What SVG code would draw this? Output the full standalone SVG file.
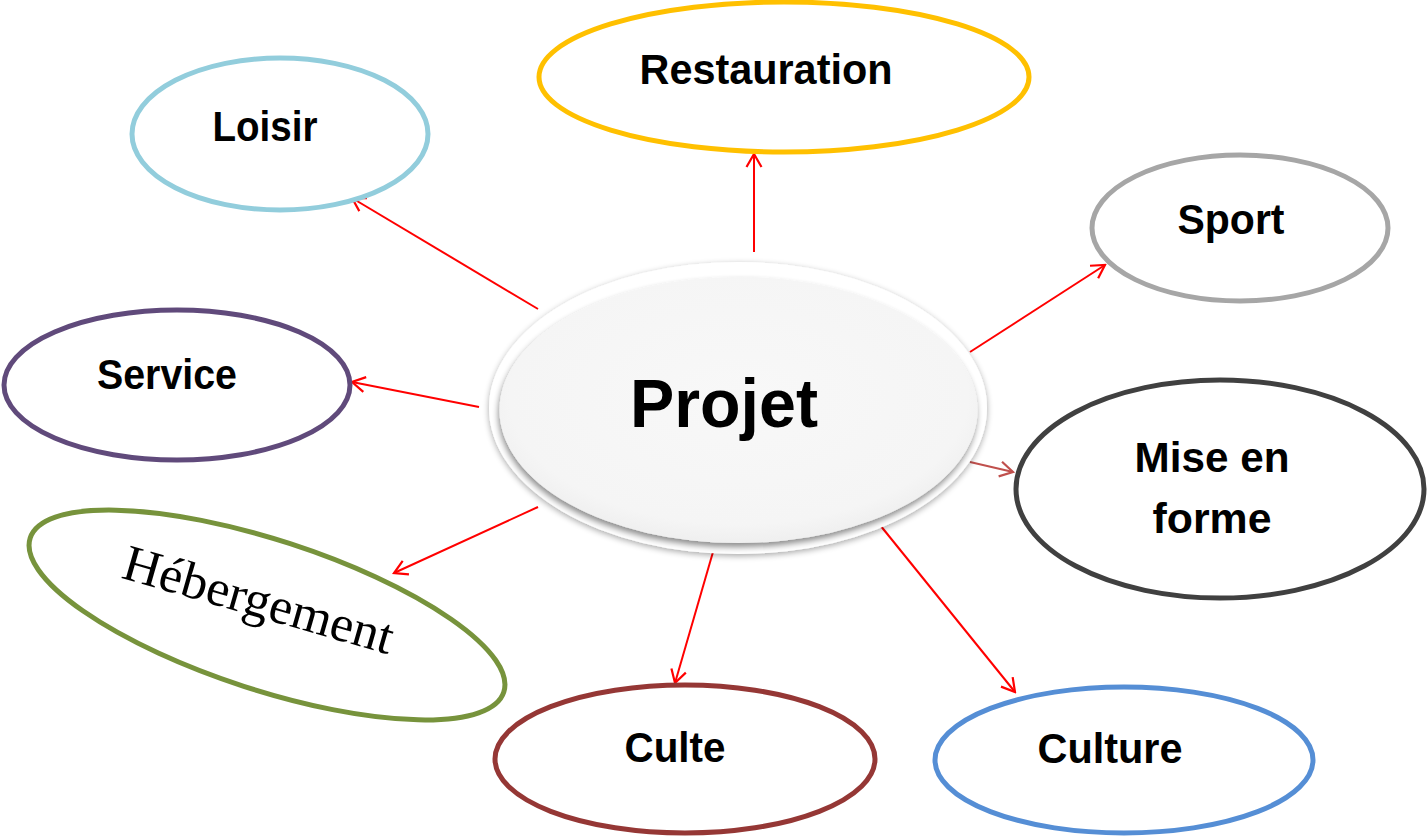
<svg xmlns="http://www.w3.org/2000/svg" width="1427" height="839" viewBox="0 0 1427 839">
  <style>
    .node { fill: #ffffff; stroke-width: 5; }
    .lbl { font-family: "Liberation Sans", Arial, sans-serif; font-weight: bold; font-size: 43px; fill: #000000; text-anchor: middle; }
    .conn { stroke: #ff0000; stroke-width: 2; fill: none; marker-end: url(#arr); }
  </style>
  <defs>
    <marker id="arr" markerUnits="userSpaceOnUse" viewBox="-15 -9 17 18" refX="0" refY="0" markerWidth="17" markerHeight="18" orient="auto">
      <path d="M-13,-7.5 L0,0 L-13,7.5" fill="none" stroke="#ff0000" stroke-width="2.2"/>
    </marker>
    <marker id="arr2" markerUnits="userSpaceOnUse" viewBox="-15 -9 17 18" refX="0" refY="0" markerWidth="17" markerHeight="18" orient="auto">
      <path d="M-13,-7.5 L0,0 L-13,7.5" fill="none" stroke="#c0504d" stroke-width="2.2"/>
    </marker>
    <filter id="outerShadow" x="-10%" y="-10%" width="120%" height="125%">
      <feGaussianBlur in="SourceAlpha" stdDeviation="3"/>
      <feOffset dx="0" dy="2" result="b"/>
      <feComponentTransfer><feFuncA type="linear" slope="0.35"/></feComponentTransfer>
      <feMerge><feMergeNode/><feMergeNode in="SourceGraphic"/></feMerge>
    </filter>
    <filter id="innerShadow" x="-10%" y="-10%" width="120%" height="125%">
      <feGaussianBlur in="SourceAlpha" stdDeviation="3"/>
      <feOffset dx="-1" dy="4" result="b"/>
      <feComponentTransfer><feFuncA type="linear" slope="0.45"/></feComponentTransfer>
      <feMerge><feMergeNode/><feMergeNode in="SourceGraphic"/></feMerge>
    </filter>
    <radialGradient id="projFill" cx="50%" cy="45%" r="60%">
      <stop offset="0" stop-color="#f8f8f8"/>
      <stop offset="0.8" stop-color="#f5f5f5"/>
      <stop offset="1" stop-color="#ebebeb"/>
    </radialGradient>
  </defs>

  <rect x="0" y="0" width="1427" height="839" fill="#ffffff"/>

  <g id="connectors">
    <line class="conn" x1="538" y1="309" x2="352" y2="198"/>
    <line class="conn" x1="754" y1="252" x2="754" y2="154"/>
    <line class="conn" x1="479" y1="407" x2="352" y2="382"/>
    <line class="conn" x1="970" y1="352" x2="1105" y2="265"/>
    <line x1="970" y1="462" x2="1013" y2="472" stroke="#c0504d" stroke-width="2" marker-end="url(#arr2)"/>
    <line class="conn" x1="538" y1="507" x2="394" y2="573"/>
    <line class="conn" x1="713" y1="552" x2="675" y2="683"/>
    <line class="conn" x1="880" y1="525" x2="1015" y2="692"/>
  </g>

  <g id="node-restauration">
    <ellipse class="node" cx="784" cy="77" rx="245" ry="75" stroke="#ffc000"/>
    <text class="lbl" x="766" y="84" textLength="253" lengthAdjust="spacingAndGlyphs">Restauration</text>
  </g>

  <g id="node-loisir">
    <ellipse class="node" cx="280" cy="134" rx="148" ry="76" stroke="#92cddc"/>
    <text class="lbl" x="265" y="141" textLength="105" lengthAdjust="spacingAndGlyphs">Loisir</text>
  </g>

  <g id="node-sport">
    <ellipse class="node" cx="1240" cy="228" rx="148" ry="73" stroke="#a6a6a6"/>
    <text class="lbl" x="1231" y="234" textLength="107" lengthAdjust="spacingAndGlyphs">Sport</text>
  </g>

  <g id="node-service">
    <ellipse class="node" cx="177" cy="385" rx="173" ry="75" stroke="#604a7b"/>
    <text class="lbl" x="167" y="389" textLength="140" lengthAdjust="spacingAndGlyphs">Service</text>
  </g>

  <g id="node-mise-en-forme">
    <ellipse class="node" cx="1220" cy="489" rx="204" ry="109" stroke="#404040"/>
    <text class="lbl" x="1212" y="472" textLength="155" lengthAdjust="spacingAndGlyphs">Mise en</text>
    <text class="lbl" x="1212" y="533" textLength="119" lengthAdjust="spacingAndGlyphs">forme</text>
  </g>

  <g id="node-hebergement">
    <ellipse class="node" cx="267" cy="615" rx="249" ry="75" stroke="#77933c" transform="rotate(18 267 615)"/>
    <text x="254" y="616" font-family="'Liberation Serif', 'Times New Roman', serif" font-size="51" fill="#000000" text-anchor="middle" textLength="279" lengthAdjust="spacingAndGlyphs" transform="rotate(16 254 616)">Hébergement</text>
  </g>

  <g id="node-culte">
    <ellipse class="node" cx="685" cy="759" rx="190" ry="74" stroke="#953735"/>
    <text class="lbl" x="675" y="762" textLength="101" lengthAdjust="spacingAndGlyphs">Culte</text>
  </g>

  <g id="node-culture">
    <ellipse class="node" cx="1124" cy="760" rx="189" ry="73" stroke="#558ed5"/>
    <text class="lbl" x="1110" y="763" textLength="145" lengthAdjust="spacingAndGlyphs">Culture</text>
  </g>

  <g id="node-projet">
    <ellipse cx="738" cy="408" rx="249" ry="146" fill="#ffffff" filter="url(#outerShadow)"/>
    <ellipse cx="738.5" cy="410" rx="239" ry="133" fill="url(#projFill)" filter="url(#innerShadow)"/>
    <text x="724" y="427" font-family="'Liberation Sans', Arial, sans-serif" font-weight="bold" font-size="68" fill="#000000" text-anchor="middle" textLength="188" lengthAdjust="spacingAndGlyphs">Projet</text>
  </g>
</svg>
